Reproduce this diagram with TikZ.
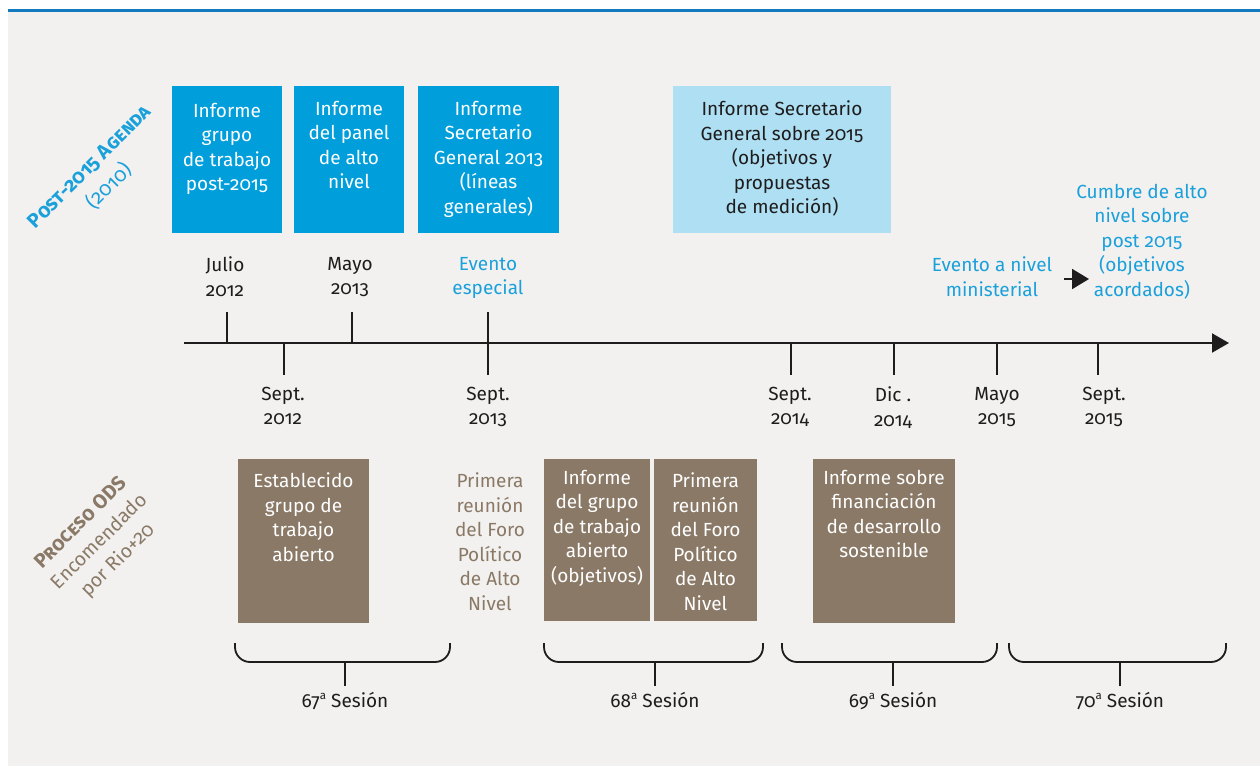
\documentclass[tikz,border=0pt]{standalone}
\usepackage{fontspec}
\setmainfont{Fira Sans}[Numbers=OldStyle]
\usetikzlibrary{arrows.meta}
\definecolor{bgc}{RGB}{242,241,239}
\definecolor{topline}{RGB}{20,122,192}
\definecolor{dblue}{RGB}{0,158,219}
\definecolor{lblue}{RGB}{174,223,243}
\definecolor{odsbrown}{RGB}{138,121,102}
\definecolor{tblue}{RGB}{26,160,219}
\definecolor{ink}{RGB}{30,28,28}
\newcommand\ordA{\raisebox{0.42em}{\fontsize{11.5}{11.5}\selectfont a}}
\tikzset{
  txt/.style={font=\fontsize{19}{24.5}\selectfont, align=center, inner sep=0pt, outer sep=0pt, anchor=north},
  wtxt/.style={txt, text=white},
  ktxt/.style={txt, text=ink},
  btxt/.style={txt, text=tblue},
  ntxt/.style={txt, text=odsbrown},
  boxbase/.style={draw=none, inner sep=0pt, outer sep=0pt, anchor=north west},
  bluebox/.style={boxbase, fill=dblue},
  lightbox/.style={boxbase, fill=lblue},
  brownbox/.style={boxbase, fill=odsbrown},
  axisline/.style={draw=ink, line width=2pt},
  tickline/.style={draw=ink, line width=1.8pt},
  bracepath/.style={draw=ink, line width=1.8pt, rounded corners=15pt},
}
\begin{document}
\begin{tikzpicture}[x=1pt, y=-1pt]
\useasboundingbox (0,0) rectangle (1260,766);
\fill[white] (0,0) rectangle (1260,766);
\fill[bgc] (8,12) rectangle (1260,766);
\fill[topline] (8,9) rectangle (1260,12);

% left rotated titles
\node[rotate=45, align=center, inner sep=0pt, text=tblue, font=\fontsize{20}{28}\selectfont] (post) at (100,177)
  {{\bfseries\scshape Post-2015 Agenda}\\(2010)};
\node[rotate=45, align=center, inner sep=0pt, text=odsbrown, font=\fontsize{19.5}{26.5}\selectfont] (ods) at (100,542)
  {{\fontsize{20}{26.5}\selectfont\bfseries\scshape Proceso ODS}\\Encomendado\\por Rio+20};

% top boxes
\node[bluebox, minimum width=110pt, minimum height=147pt] (b1) at (172,86) {};
\node[bluebox, minimum width=110pt, minimum height=147pt] (b2) at (294,86) {};
\node[bluebox, minimum width=141pt, minimum height=147pt] (b3) at (418,86) {};
\node[lightbox, minimum width=218pt, minimum height=147pt] (b4) at (673,86) {};
\node[wtxt] (t1) at (227,103) {Informe\\grupo\\de trabajo\\post-2015};
\node[wtxt] (t2) at (349,101) {Informe\\del panel\\de alto\\nivel};
\node[wtxt] (t3) at (488.5,101) {Informe\\Secretario\\General 2013\\(líneas\\generales)};
\node[ktxt] (t4) at (782,101) {Informe Secretario\\General sobre 2015\\(objetivos y\\propuestas\\de medición)};

% labels above axis
\node[ktxt] (l1) at (225,257) {Julio\\2012};
\node[ktxt] (l2) at (350,257) {Mayo\\2013};
\node[btxt] (l3) at (488,257) {Evento\\especial};
\node[btxt] (l4) at (992,257) {Evento a nivel\\ministerial};
\node[btxt] (l5) at (1142,184) {Cumbre de alto\\nivel sobre\\post 2015\\(objetivos\\acordados)};
\coordinate (sa1) at (1064,279);
\coordinate (sa2) at (1089,279);
\draw[line width=2pt, draw=ink, -{Triangle[length=17pt,width=20pt]}] (sa1) -- (sa2);

% axis
\coordinate (axL) at (184,343);
\coordinate (axR) at (1229,343);
\draw[axisline, -{Triangle[length=17pt,width=19pt]}] (axL) -- (axR);

% ticks
\foreach \n/\x/\ya/\yb in {a/227/312/343, b/352/312/343, c/488/312/375, d/284/343/375, e/791/343/375, f/894/343/375, g/997/343/375, h/1098/343/375}{
  \coordinate (tk\n1) at (\x,\ya);
  \coordinate (tk\n2) at (\x,\yb);
  \draw[tickline] (tk\n1) -- (tk\n2);
}

% labels below axis
\node[ktxt] (d1) at (283,387) {Sept.\\2012};
\node[ktxt] (d2) at (488,387) {Sept.\\2013};
\node[ktxt] (d3) at (790,387) {Sept.\\2014};
\node[ktxt] (d4) at (893,387) {Dic .\\2014};
\node[ktxt] (d5) at (997,387) {Mayo\\2015};
\node[ktxt] (d6) at (1104,387) {Sept.\\2015};

% bottom boxes
\node[brownbox, minimum width=131pt, minimum height=164pt] (c1) at (238,459) {};
\node[brownbox, minimum width=106pt, minimum height=162pt] (c3) at (544,459) {};
\node[brownbox, minimum width=103pt, minimum height=162pt] (c4) at (654,459) {};
\node[brownbox, minimum width=142pt, minimum height=164pt] (c5) at (813,459) {};
\node[wtxt] (u1) at (303.5,473) {Establecido\\grupo de\\trabajo\\abierto};
\node[ntxt] (u2) at (490,473) {Primera\\reunión\\del Foro\\Político\\de Alto\\Nivel};
\node[wtxt] (u3) at (597,470) {Informe\\del grupo\\de trabajo\\abierto\\(objetivos)};
\node[wtxt] (u4) at (705.5,473) {Primera\\reunión\\del Foro\\Político\\de Alto\\Nivel};
\node[wtxt] (u5) at (884,470) {Informe sobre\\financiación\\de desarrollo\\sostenible};

% braces and sessions
\foreach \n/\xa/\xm/\xb in {67/235/345/450, 68/544/655/763, 69/782/893/997, 70/1009/1120/1226}{
  \coordinate (br\n a) at (\xa,643);
  \coordinate (br\n b) at (\xb,643);
  \coordinate (br\n m) at (\xm,662);
  \coordinate (br\n s) at (\xm,686);
  \draw[bracepath] (br\n a) |- (br\n m) -| (br\n b);
  \draw[tickline] (br\n m) -- (br\n s);
  \node[ktxt] (s\n) at (\xm,692) {\n\ordA{} Sesión};
}
\end{tikzpicture}
\end{document}
